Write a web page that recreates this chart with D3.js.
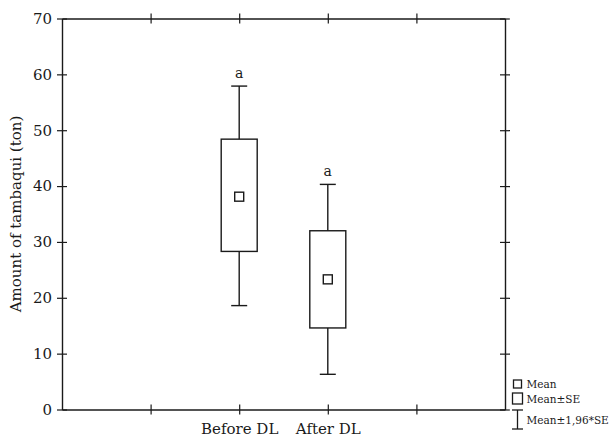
<!DOCTYPE html>
<html>
<head>
<meta charset="utf-8">
<script src="https://cdn.jsdelivr.net/npm/d3@7"></script>
<style>
  body { margin: 0; background: #fff; }
  svg { display: block; }
  .axis text { font-family: "DejaVu Serif", serif; }
</style>
</head>
<body>
<div id="chart"></div>
<script>
let categories = ["Before DL", "After DL"]
let catPos = [2, 3]
let means = [38.1, 23.3]
let seLow = [28.3, 14.6]
let seHigh = [48.4, 32.0]
let ciLow = [18.6, 6.3]
let ciHigh = [57.9, 40.3]
let letters = ["a", "a"]
let yTicks = [0, 10, 20, 30, 40, 50, 60, 70]
let xTicks = [1, 2, 3, 4]

let width = 612
let height = 437
let margin = { top: 18.5, right: 107, bottom: 27.5, left: 62 }
let ink = "#1a1a1a"

let svg = d3.select("#chart")
  .append("svg")
  .attr("width", width)
  .attr("height", height)

let x = d3.scaleLinear()
  .domain([0, 5])
  .range([margin.left, width - margin.right])

let y = d3.scaleLinear()
  .domain([0, 70])
  .range([height - margin.bottom, margin.top])

let crossX = g => g.selectAll(".tick line").attr("y1", -5).attr("y2", 5)
let crossY = g => g.selectAll(".tick line").attr("x1", -5).attr("x2", 5)
let styleAxis = g => {
  g.select(".domain").attr("stroke", ink).attr("stroke-width", 1.4)
  g.selectAll(".tick line").attr("stroke", ink).attr("stroke-width", 1.2)
  g.selectAll("text").attr("fill", ink)
}

// left axis with labels
svg.append("g")
  .attr("class", "axis")
  .attr("transform", `translate(${margin.left},0)`)
  .call(d3.axisLeft(y).tickValues(yTicks).tickSizeOuter(0).tickPadding(4))
  .call(crossY)
  .call(styleAxis)
  .call(g => g.selectAll("text").style("font-size", "15px"))

// right axis
svg.append("g")
  .attr("transform", `translate(${width - margin.right},0)`)
  .call(d3.axisRight(y).tickValues(yTicks).tickSizeOuter(0).tickFormat(""))
  .call(crossY)
  .call(styleAxis)

// bottom axis
svg.append("g")
  .attr("class", "axis")
  .attr("transform", `translate(0,${height - margin.bottom})`)
  .call(d3.axisBottom(x).tickValues(xTicks).tickSizeOuter(0).tickPadding(8)
    .tickFormat(d => {
      let i = catPos.indexOf(d)
      return i >= 0 ? categories[i] : ""
    }))
  .call(crossX)
  .call(styleAxis)
  .call(g => g.selectAll("text").style("font-size", "15px"))

// top axis
svg.append("g")
  .attr("transform", `translate(0,${margin.top})`)
  .call(d3.axisTop(x).tickValues(xTicks).tickSizeOuter(0).tickFormat(""))
  .call(crossX)
  .call(styleAxis)

// y label
svg.append("text")
  .attr("transform", `translate(21,${(y(0) + y(70)) / 2}) rotate(-90)`)
  .attr("text-anchor", "middle")
  .style("font", "15px 'DejaVu Serif', serif")
  .attr("fill", ink)
  .text("Amount of tambaqui (ton)")

let boxW = 36
let capW = 16
let meanS = 9

let groups = svg.append("g")
  .selectAll("g")
  .data(categories)
  .enter().append("g")

// whiskers
groups.append("line")
  .attr("x1", (d, i) => x(catPos[i]))
  .attr("x2", (d, i) => x(catPos[i]))
  .attr("y1", (d, i) => y(ciLow[i]))
  .attr("y2", (d, i) => y(ciHigh[i]))
  .attr("stroke", ink).attr("stroke-width", 1.4)

groups.selectAll(".cap")
  .data((d, i) => [[catPos[i], ciLow[i]], [catPos[i], ciHigh[i]]])
  .enter().append("line")
  .attr("class", "cap")
  .attr("x1", d => x(d[0]) - capW / 2)
  .attr("x2", d => x(d[0]) + capW / 2)
  .attr("y1", d => y(d[1]))
  .attr("y2", d => y(d[1]))
  .attr("stroke", ink).attr("stroke-width", 1.4)

// boxes
groups.append("rect")
  .attr("x", (d, i) => x(catPos[i]) - boxW / 2)
  .attr("y", (d, i) => y(seHigh[i]))
  .attr("width", boxW)
  .attr("height", (d, i) => y(seLow[i]) - y(seHigh[i]))
  .attr("fill", "#fff")
  .attr("stroke", ink).attr("stroke-width", 1.4)

// mean squares
groups.append("rect")
  .attr("x", (d, i) => x(catPos[i]) - meanS / 2)
  .attr("y", (d, i) => y(means[i]) - meanS / 2)
  .attr("width", meanS)
  .attr("height", meanS)
  .attr("fill", "#fff")
  .attr("stroke", ink).attr("stroke-width", 1.4)

// letters
groups.append("text")
  .attr("x", (d, i) => x(catPos[i]))
  .attr("y", (d, i) => y(ciHigh[i]) - 8)
  .attr("text-anchor", "middle")
  .style("font", "14px 'DejaVu Serif', serif")
  .attr("fill", ink)
  .text((d, i) => letters[i])

// legend
let lx = 517.5
let legend = svg.append("g")
  .attr("stroke", ink).attr("stroke-width", 1.3).attr("fill", "none")
legend.append("rect").attr("x", lx - 4).attr("y", 380).attr("width", 8).attr("height", 8)
legend.append("rect").attr("x", lx - 5).attr("y", 393).attr("width", 10).attr("height", 11)
legend.append("line").attr("x1", lx).attr("x2", lx).attr("y1", 410).attr("y2", 429)
legend.append("line").attr("x1", lx - 5.5).attr("x2", lx + 5.5).attr("y1", 410).attr("y2", 410)
legend.append("line").attr("x1", lx - 5.5).attr("x2", lx + 5.5).attr("y1", 429).attr("y2", 429)

let legendLabels = ["Mean", "Mean±SE", "Mean±1,96*SE"]
let legendY = [388, 403, 424]
svg.append("g")
  .selectAll("text")
  .data(legendLabels)
  .enter().append("text")
  .attr("x", 526.5)
  .attr("y", (d, i) => legendY[i])
  .style("font", "10.5px 'DejaVu Serif', serif")
  .attr("fill", ink)
  .text(d => d)
</script>
</body>
</html>
